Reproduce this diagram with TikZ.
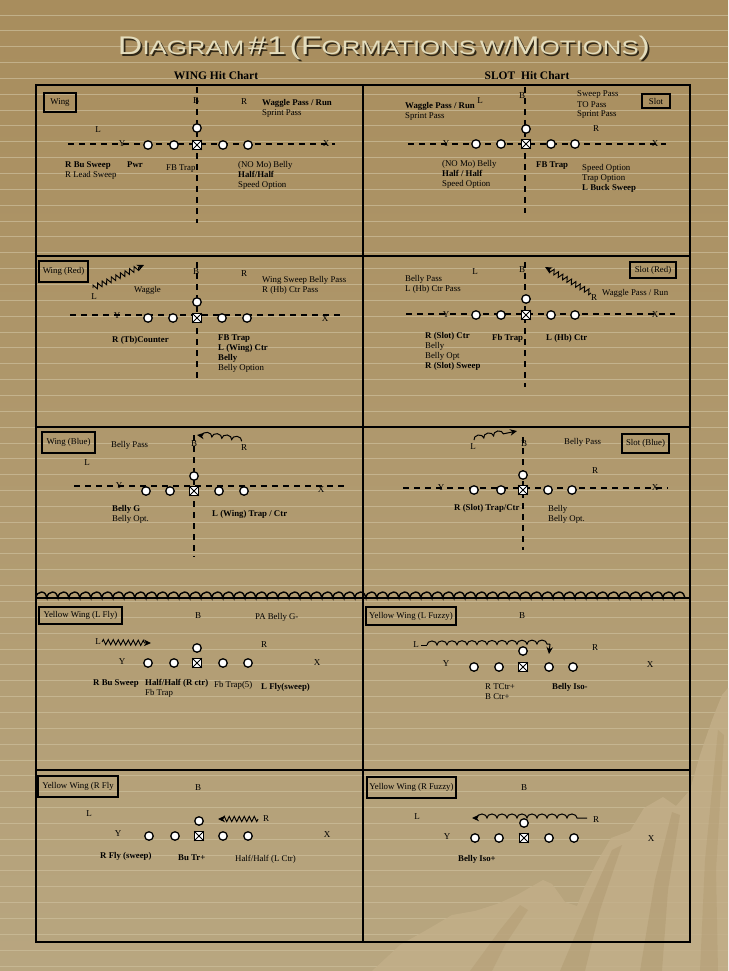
\documentclass[tikz,border=0pt]{standalone}
\usepackage{fontspec}
\setmainfont{Liberation Serif}
\newfontfamily\titlefont{Liberation Sans}
\usetikzlibrary{decorations.pathmorphing,arrows.meta}
\definecolor{bgtop}{HTML}{A88D5D}
\definecolor{bgmid}{HTML}{B19C72}
\definecolor{bgbot}{HTML}{B8A680}
\definecolor{stripe}{HTML}{CDBF9C}
\definecolor{rock}{HTML}{C3AF89}
\definecolor{rockdark}{HTML}{A99267}
\definecolor{titlecream}{HTML}{E4DDBD}
\definecolor{titleshadow}{HTML}{2F2717}
\newcommand{\ttlbig}{\fontsize{25}{25}\selectfont}
\newcommand{\ttlsm}{\fontsize{19}{19}\selectfont}
\newcommand{\titletext}{\resizebox{532pt}{18.5pt}{\titlefont{\ttlbig D}{\ttlsm IAGRAM} {\ttlbig \#1} {\ttlbig (F}{\ttlsm ORMATIONS} {\ttlsm W/}{\ttlbig M}{\ttlsm OTIONS}{\ttlbig )}}}
\newcommand{\lineup}[8]{%
  \node[player] (#1a) at (#3,#2) {};
  \node[player] (#1b) at (#4,#2) {};
  \node[ctrbox] (#1c) at (#5,#2) {};
  \draw[line width=0.8pt] (#1c.north west) -- (#1c.south east) (#1c.north east) -- (#1c.south west);
  \node[player] (#1d) at (#6,#2) {};
  \node[player] (#1e) at (#7,#2) {};
  \node[player] (#1q) at (#5,#8) {};
}
\tikzset{
  txt/.style={anchor=base west, inner sep=0pt, font=\fontsize{8.8}{10}\selectfont},
  txtb/.style={anchor=base west, inner sep=0pt, font=\fontsize{8.8}{10}\selectfont\bfseries},
  lab/.style={inner sep=0pt, font=\fontsize{9}{10}\selectfont},
  player/.style={circle, draw, fill=white, line width=1.3pt, minimum size=8.5pt, inner sep=0pt},
  ctrbox/.style={rectangle, draw, fill=white, line width=1.1pt, minimum size=8.5pt, inner sep=0pt},
  fieldline/.style={dash pattern=on 6pt off 5pt, line width=1.1pt},
  tagbox/.style={draw, line width=1.1pt, inner sep=0pt, font=\fontsize{8.8}{10}\selectfont},
  zig/.style={decorate, decoration={zigzag, segment length=5pt, amplitude=2.6pt, post length=5pt}, line width=0.9pt},
  motionbumps/.style={decorate, decoration={bumps, segment length=20pt, amplitude=4pt}, line width=1pt},
  tip/.style={-{Stealth[length=7pt,width=6.5pt]}},
  grid/.style={line width=1.2pt}
}
\begin{document}
\begin{tikzpicture}[x=1pt,y=-1pt]
\useasboundingbox (0,0) rectangle (728,971);
% background
\fill[top color=bgtop, middle color=bgmid, bottom color=bgbot] (0,0) rectangle (728,971);
\foreach \k in {0,...,60} \draw[stripe, line width=0.9pt, opacity=0.7] (0,{15+15.85*\k}) -- (728,{15+15.85*\k});
% rock silhouette
\fill[rock, fill opacity=0.8] (372,971) -- (400,945) -- (430,928) -- (452,915) -- (475,911) -- (497,904) -- (517,895) -- (543,880) -- (552,884) -- (565,902) -- (577,906) -- (585,886) -- (597,862) -- (611,838) -- (630,831) -- (644,808) -- (663,797) -- (676,806) -- (690,790) -- (700,755) -- (712,720) -- (722,695) -- (728,688) -- (728,971) -- cycle;
\fill[rockdark, fill opacity=0.35] (560,971) -- (590,900) -- (612,850) -- (622,845) -- (600,910) -- (585,971) -- cycle;
\fill[rockdark, fill opacity=0.35] (640,971) -- (655,880) -- (672,812) -- (680,815) -- (668,890) -- (662,971) -- cycle;
\fill[rockdark, fill opacity=0.3] (700,971) -- (705,860) -- (718,730) -- (724,735) -- (716,870) -- (718,971) -- cycle;
\fill[rockdark, fill opacity=0.3] (470,971) -- (500,930) -- (520,905) -- (528,910) -- (505,945) -- (492,971) -- cycle;

% title
\node[anchor=base, text=titleshadow, inner sep=0pt] (titleshade) at (385.6,56.6) {\titletext};
\node[anchor=base, text=titlecream, inner sep=0pt] (title) at (384,55) {\titletext};
\node[anchor=base, inner sep=0pt, font=\fontsize{11.5}{12}\selectfont\bfseries] (wingchart) at (216,80) {WING Hit Chart};
\node[anchor=base, inner sep=0pt, font=\fontsize{11.5}{12}\selectfont\bfseries] (slotchart) at (527,80) {SLOT\ \ Hit Chart};

% table
\draw[grid] (36,85) rectangle (690,942);
\draw[grid] (363,85) -- (363,942);
\draw[grid] (36,256) -- (690,256);
\draw[grid] (36,427) -- (690,427);
\draw[grid] (36,770) -- (690,770);
\coordinate (sepw) at (36,598);
\coordinate (sepe) at (690,598);
\draw[grid] (sepw) -- (sepe);
\draw[decorate, decoration={bumps, segment length=22pt, amplitude=6pt}, line width=1.4pt] (sepw) -- (sepe);

% ================= Panel 1 : Wing
\coordinate (p1w) at (68,144); \coordinate (p1ee) at (335,144);
\coordinate (p1n) at (197,87); \coordinate (p1s) at (197,223);
\draw[fieldline] (p1w) -- (p1ee);
\draw[fieldline] (p1n) -- (p1s);
\lineup{p1}{145}{148}{174}{197}{223}{248}{128}
\node[tagbox, minimum width=32pt, minimum height=19pt] (p1tag) at (60,102.5) {Wing};
\node[lab] (p1B) at (196,101) {B};
\node[lab] (p1R) at (244,102) {R};
\node[lab] (p1L) at (98,130) {L};
\node[lab] (p1Y) at (122,144) {Y};
\node[lab] (p1X) at (326,144) {X};
\node[txtb] (p1t1) at (262,106) {Waggle Pass / Run};
\node[txt] (p1t2) at (262,116) {Sprint Pass};
\node[txtb] (p1t3) at (65,167) {R Bu Sweep};
\node[txtb] (p1t4) at (127,167) {Pwr};
\node[txt] (p1t5) at (65,177) {R Lead Sweep};
\node[txt] (p1t6) at (166,170) {FB Trap};
\node[txt] (p1t7) at (238,167) {(NO Mo) Belly};
\node[txtb] (p1t8) at (238,177) {Half/Half};
\node[txt] (p1t9) at (238,187) {Speed Option};

% ================= Panel 2 : Slot
\coordinate (p2w) at (408,144); \coordinate (p2ee) at (666,144);
\coordinate (p2n) at (525,87); \coordinate (p2s) at (525,213);
\draw[fieldline] (p2w) -- (p2ee);
\draw[fieldline] (p2n) -- (p2s);
\lineup{p2}{144}{476}{501}{526}{551}{575}{129}
\node[tagbox, minimum width=28pt, minimum height=14pt] (p2tag) at (656,101) {Slot};
\node[lab] (p2L) at (480,101) {L};
\node[lab] (p2B) at (522,96) {B};
\node[lab] (p2R) at (596,129) {R};
\node[lab] (p2Y) at (446,144) {Y};
\node[lab] (p2X) at (655,144) {X};
\node[txtb] (p2t1) at (405,109) {Waggle Pass / Run};
\node[txt] (p2t2) at (405,119) {Sprint Pass};
\node[txt] (p2t3) at (577,97) {Sweep Pass};
\node[txt] (p2t4) at (577,107) {TO Pass};
\node[txt] (p2t5) at (577,117) {Sprint Pass};
\node[txt] (p2t6) at (442,166) {(NO Mo) Belly};
\node[txtb] (p2t7) at (442,176) {Half / Half};
\node[txt] (p2t8) at (442,186) {Speed Option};
\node[txtb] (p2t9) at (536,167) {FB Trap};
\node[txt] (p2t10) at (582,170) {Speed Option};
\node[txt] (p2t11) at (582,180) {Trap Option};
\node[txtb] (p2t12) at (582,190) {L Buck Sweep};

% ================= Panel 3 : Wing (Red)
\coordinate (p3w) at (70,315); \coordinate (p3ee) at (342,315);
\coordinate (p3n) at (197,262); \coordinate (p3s) at (197,382);
\draw[fieldline] (p3w) -- (p3ee);
\draw[fieldline] (p3n) -- (p3s);
\lineup{p3}{318}{148}{173}{197}{222}{247}{302}
\node[tagbox, minimum width=49pt, minimum height=21pt] (p3tag) at (63.5,271.5) {Wing (Red)};
\coordinate (m3s) at (93,288); \coordinate (m3e) at (144,265);
\draw[zig, tip] (m3s) -- (m3e);
\node[lab] (p3L) at (94,297) {L};
\node[lab] (p3B) at (196,272) {B};
\node[lab] (p3R) at (244,274) {R};
\node[lab] (p3Y) at (117,316) {Y};
\node[lab] (p3X) at (325,319) {X};
\node[txt] (p3t1) at (134,292) {Waggle};
\node[txt] (p3t2) at (262,282) {Wing Sweep Belly Pass};
\node[txt] (p3t3) at (262,292) {R (Hb) Ctr Pass};
\node[txtb] (p3t4) at (112,342) {R (Tb)Counter};
\node[txtb] (p3t5) at (218,340) {FB Trap};
\node[txtb] (p3t6) at (218,350) {L (Wing) Ctr};
\node[txtb] (p3t7) at (218,360) {Belly};
\node[txt] (p3t8) at (218,370) {Belly Option};

% ================= Panel 4 : Slot (Red)
\coordinate (p4w) at (406,314); \coordinate (p4ee) at (675,314);
\coordinate (p4n) at (525,262); \coordinate (p4s) at (525,387);
\draw[fieldline] (p4w) -- (p4ee);
\draw[fieldline] (p4n) -- (p4s);
\lineup{p4}{315}{476}{501}{526}{551}{575}{299}
\node[tagbox, minimum width=46pt, minimum height=16pt] (p4tag) at (653,270) {Slot (Red)};
\coordinate (m4s) at (591,293); \coordinate (m4e) at (545,267);
\draw[zig, tip] (m4s) -- (m4e);
\node[lab] (p4L) at (475,272) {L};
\node[lab] (p4B) at (522,270) {B};
\node[lab] (p4R) at (594,298) {R};
\node[lab] (p4Y) at (446,315) {Y};
\node[lab] (p4X) at (655,315) {X};
\node[txt] (p4t1) at (405,281) {Belly Pass};
\node[txt] (p4t2) at (405,291) {L (Hb) Ctr Pass};
\node[txt] (p4t3) at (602,295) {Waggle Pass / Run};
\node[txtb] (p4t4) at (425,338) {R (Slot) Ctr};
\node[txt] (p4t5) at (425,348) {Belly};
\node[txt] (p4t6) at (425,358) {Belly Opt};
\node[txtb] (p4t7) at (425,368) {R (Slot) Sweep};
\node[txtb] (p4t8) at (492,340) {Fb Trap};
\node[txtb] (p4t9) at (546,340) {L (Hb) Ctr};

% ================= Panel 5 : Wing (Blue)
\coordinate (p5w) at (74,486); \coordinate (p5ee) at (345,486);
\coordinate (p5n) at (194,435); \coordinate (p5s) at (194,557);
\draw[fieldline] (p5w) -- (p5ee);
\draw[fieldline] (p5n) -- (p5s);
\lineup{p5}{491}{146}{170}{194}{219}{244}{476}
\node[tagbox, minimum width=53pt, minimum height=21pt] (p5tag) at (68.5,442.5) {Wing (Blue)};
\coordinate (m5e) at (197,435); \coordinate (m5s) at (242,441);
\draw[motionbumps, decoration={pre length=5pt}, {Stealth[length=7pt,width=6.5pt]}-] (m5e) -- (m5s);
\node[lab] (p5B) at (194,444) {B};
\node[lab] (p5R) at (244,448) {R};
\node[lab] (p5L) at (87,463) {L};
\node[lab] (p5Y) at (119,486) {Y};
\node[lab] (p5X) at (321,490) {X};
\node[txt] (p5t1) at (111,447) {Belly Pass};
\node[txtb] (p5t2) at (112,511) {Belly G};
\node[txt] (p5t3) at (112,521) {Belly Opt.};
\node[txtb] (p5t4) at (212,516) {L (Wing) Trap / Ctr};

% ================= Panel 6 : Slot (Blue)
\coordinate (p6w) at (403,488); \coordinate (p6ee) at (668,488);
\coordinate (p6n) at (523,437); \coordinate (p6s) at (523,550);
\draw[fieldline] (p6w) -- (p6ee);
\draw[fieldline] (p6n) -- (p6s);
\lineup{p6}{490}{474}{501}{523}{548}{572}{475}
\node[tagbox, minimum width=47pt, minimum height=19pt] (p6tag) at (645.5,443.5) {Slot (Blue)};
\coordinate (m6s) at (474,440); \coordinate (m6e) at (517,431);
\draw[motionbumps, decoration={post length=5pt}, tip] (m6s) -- (m6e);
\node[lab] (p6L) at (473,447) {L};
\node[lab] (p6B) at (524,444) {B};
\node[lab] (p6R) at (595,471) {R};
\node[lab] (p6Y) at (441,488) {Y};
\node[lab] (p6X) at (655,488) {X};
\node[txt] (p6t1) at (564,444) {Belly Pass};
\node[txtb] (p6t2) at (454,510) {R (Slot) Trap/Ctr};
\node[txt] (p6t3) at (548,511) {Belly};
\node[txt] (p6t4) at (548,521) {Belly Opt.};

% ================= Panel 7 : Yellow Wing (L Fly)
\lineup{p7}{663}{148}{174}{197}{223}{248}{648}
\node[tagbox, minimum width=83pt, minimum height=17pt] (p7tag) at (80.5,615.5) {Yellow Wing (L Fly)};
\coordinate (m7s) at (102,642); \coordinate (m7e) at (151,643);
\draw[zig, tip] (m7s) -- (m7e);
\node[lab] (p7B) at (198,616) {B};
\node[lab] (p7L) at (98,642) {L};
\node[lab] (p7R) at (264,645) {R};
\node[lab] (p7Y) at (122,662) {Y};
\node[lab] (p7X) at (317,663) {X};
\node[txt] (p7t1) at (255,619) {PA Belly G-};
\node[txtb] (p7t2) at (93,685) {R Bu Sweep};
\node[txtb] (p7t3) at (145,685) {Half/Half (R ctr)};
\node[txt] (p7t4) at (145,695) {Fb Trap};
\node[txt] (p7t5) at (214,687) {Fb Trap(5)};
\node[txtb] (p7t6) at (261,689) {L Fly(sweep)};

% ================= Panel 8 : Yellow Wing (L Fuzzy)
\lineup{p8}{667}{474}{499}{523}{549}{573}{651}
\node[tagbox, minimum width=90pt, minimum height=18pt] (p8tag) at (411,616) {Yellow Wing (L Fuzzy)};
\coordinate (m8s) at (421,645); \coordinate (m8b) at (427,645); \coordinate (m8m) at (550,644); \coordinate (m8e) at (549,654);
\draw[line width=1pt] (m8s) -- (m8b);
\draw[motionbumps] (m8b) -- (m8m);
\draw[line width=1pt, tip] (m8m) -- (m8e);
\node[lab] (p8B) at (522,616) {B};
\node[lab] (p8L) at (416,645) {L};
\node[lab] (p8R) at (595,648) {R};
\node[lab] (p8Y) at (446,664) {Y};
\node[lab] (p8X) at (650,665) {X};
\node[txt] (p8t1) at (485,689) {R TCtr+};
\node[txt] (p8t2) at (485,699) {B Ctr+};
\node[txtb] (p8t3) at (552,689) {Belly Iso-};

% ================= Panel 9 : Yellow Wing (R Fly)
\lineup{p9}{836}{149}{175}{199}{223}{248}{821}
\node[tagbox, minimum width=80pt, minimum height=21pt] (p9tag) at (78,786.5) {Yellow Wing (R Fly};
\coordinate (m9s) at (258,819); \coordinate (m9e) at (218,819);
\draw[zig, tip] (m9s) -- (m9e);
\node[lab] (p9B) at (198,788) {B};
\node[lab] (p9L) at (89,814) {L};
\node[lab] (p9R) at (266,819) {R};
\node[lab] (p9Y) at (118,834) {Y};
\node[lab] (p9X) at (327,835) {X};
\node[txtb] (p9t1) at (100,858) {R Fly (sweep)};
\node[txtb] (p9t2) at (178,860) {Bu Tr+};
\node[txt] (p9t3) at (235,861) {Half/Half (L Ctr)};

% ================= Panel 10 : Yellow Wing (R Fuzzy)
\lineup{p10}{838}{475}{499}{524}{549}{574}{823}
\node[tagbox, minimum width=89pt, minimum height=21pt] (p10tag) at (411.5,787.5) {Yellow Wing (R Fuzzy)};
\coordinate (m10e) at (472,818); \coordinate (m10s) at (587,818);
\draw[motionbumps, decoration={pre length=5pt}, {Stealth[length=7pt,width=6.5pt]}-] (m10e) -- (m10s);
\node[lab] (p10B) at (524,788) {B};
\node[lab] (p10L) at (417,817) {L};
\node[lab] (p10R) at (596,820) {R};
\node[lab] (p10Y) at (447,837) {Y};
\node[lab] (p10X) at (651,839) {X};
\node[txtb] (p10t1) at (458,861) {Belly Iso+};
\end{tikzpicture}
\end{document}
